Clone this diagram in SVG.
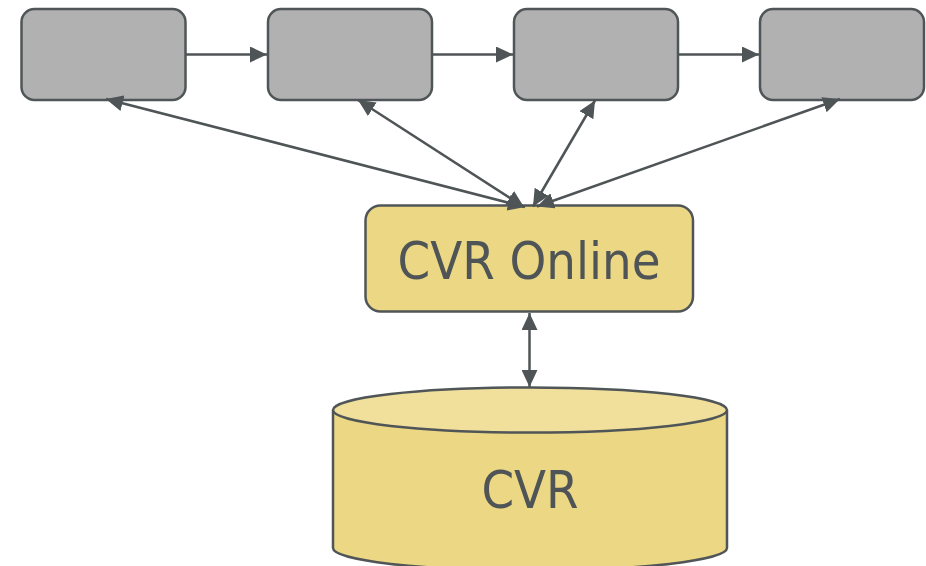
<svg xmlns="http://www.w3.org/2000/svg" width="926" height="566" viewBox="0 0 926 566">
<defs>
<style>
.box{fill:#b1b1b1;stroke:#505557;stroke-width:2.5}
.y{fill:#ebd784;stroke:#505557;stroke-width:2.5}
.yt{fill:#f0e09c;stroke:#505557;stroke-width:2.5}
.c{fill:none;stroke:#4f5456;stroke-width:2.5}
.t{font-family:"DejaVu Sans Condensed","DejaVu Sans",sans-serif;font-stretch:condensed;font-size:52px;fill:#4f5456;text-anchor:middle}
</style>
<marker id="a" viewBox="0 0 17 16" refX="17" refY="8" markerWidth="17" markerHeight="16" markerUnits="userSpaceOnUse" orient="auto-start-reverse">
<path d="M0,0 L17,8 L0,16 Z" fill="#4f5456"/>
</marker>
</defs>
<g id="n1"><rect class="box" x="21.5" y="9" width="164" height="91" rx="13"/></g>
<g id="n2"><rect class="box" x="268" y="9" width="164" height="91" rx="13"/></g>
<g id="n3"><rect class="box" x="514" y="9" width="164" height="91" rx="13"/></g>
<g id="n4"><rect class="box" x="760" y="9" width="164" height="91" rx="13"/></g>
<g id="cvronline"><rect class="y" x="365.5" y="205.5" width="327.5" height="106" rx="15"/><text class="t" x="529" y="279">CVR Online</text></g>
<g id="cvr">
<path class="y" d="M333,410 L333,548 A197,22.5 0 0 0 727,548 L727,410"/>
<ellipse class="yt" cx="530" cy="410" rx="197" ry="22.5"/>
<text class="t" x="530" y="508">CVR</text>
</g>
<g id="connectors">
<line class="c" x1="186" y1="54.5" x2="267" y2="54.5" marker-end="url(#a)"/>
<line class="c" x1="432" y1="54.5" x2="513" y2="54.5" marker-end="url(#a)"/>
<line class="c" x1="678" y1="54.5" x2="759" y2="54.5" marker-end="url(#a)"/>
<line class="c" x1="106" y1="99" x2="525" y2="207" marker-start="url(#a)" marker-end="url(#a)"/>
<line class="c" x1="358" y1="100" x2="524" y2="207" marker-start="url(#a)" marker-end="url(#a)"/>
<line class="c" x1="595" y1="100.5" x2="533" y2="206.5" marker-start="url(#a)" marker-end="url(#a)"/>
<line class="c" x1="840" y1="99" x2="537" y2="206.5" marker-start="url(#a)" marker-end="url(#a)"/>
<line class="c" x1="529.5" y1="313" x2="529.5" y2="387" marker-start="url(#a)" marker-end="url(#a)"/>
</g>
</svg>
